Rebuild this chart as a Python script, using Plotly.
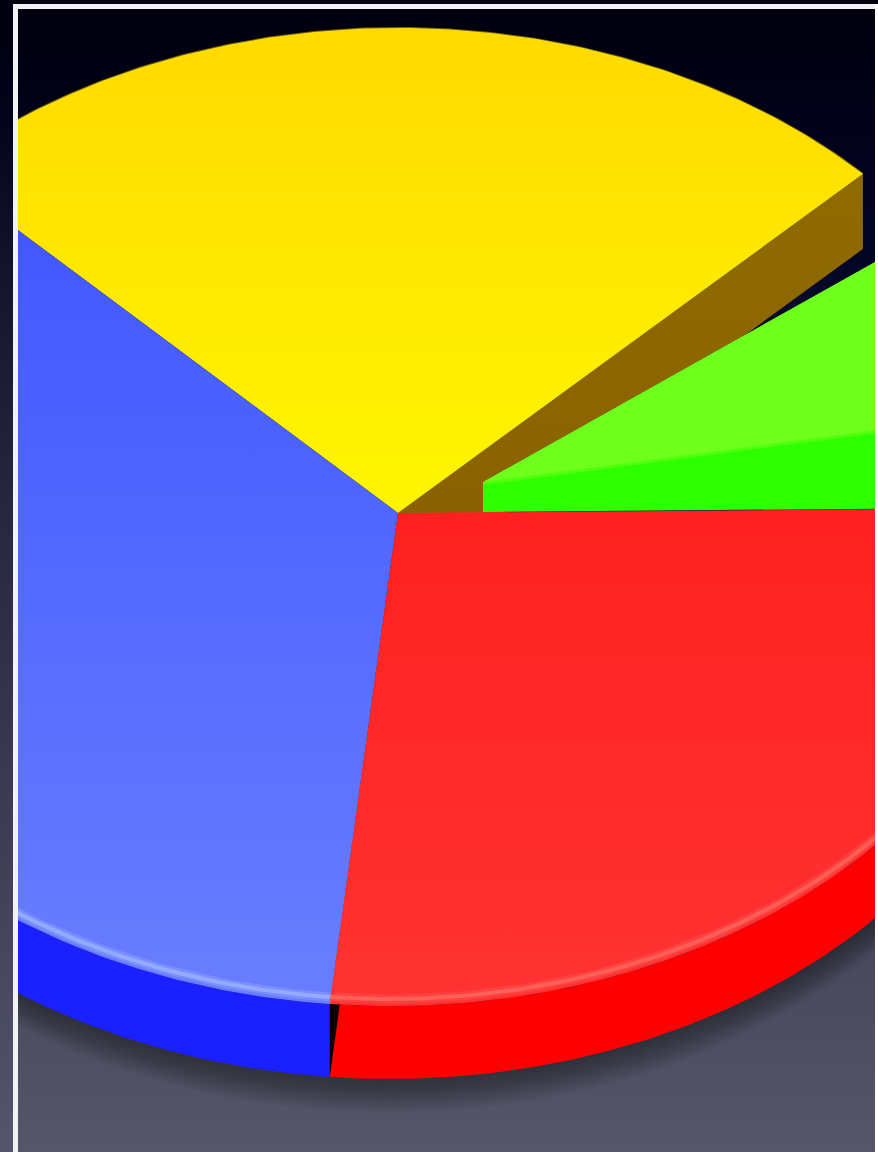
import numpy as np
import plotly.graph_objects as go

# ---- data: slice shares (percent of the full turn)
slice_names = ["Red", "Green", "Yellow", "Blue"]
red_share = 26.6
green_share = 10.1
green_gap_share = 2.05
yellow_share = 25.2
blue_share = 36.05

# ---- styles
top_scales = {
    "Yellow": [[0, "#ffda00"], [1, "#fff400"]],
    "Blue": [[0, "#4258ff"], [1, "#677cff"]],
    "Red": [[0, "#ff2020"], [1, "#ff3232"]],
}
W, H = 878, 1152
CX, CY = 398, 513
UP = (398, 650, 485)    # upper half of the projected disc
LOW = (389, 658, 493)   # lower half of the projected disc
DEPTH = 73
START_DEG = 0.6


def arc(a0, a1, n=160, dy=0.0):
    th = np.radians(np.linspace(a0, a1, n))
    s = np.sin(th)
    x0 = np.where(s >= 0, UP[0], LOW[0])
    a = np.where(s >= 0, UP[1], LOW[1])
    b = np.where(s >= 0, UP[2], LOW[2])
    return x0 + a * np.cos(th), CY - b * s + dy


def deg(p):
    return p * 3.6


green_a0 = START_DEG
green_a1 = green_a0 + deg(green_share)
yellow_a0 = green_a1 + deg(green_gap_share)
yellow_a1 = yellow_a0 + deg(yellow_share)
blue_a0 = yellow_a1
blue_a1 = blue_a0 + deg(blue_share)
red_a0 = blue_a1
red_a1 = red_a0 + deg(red_share)

fig = go.Figure()


def poly(x, y, color=None, gradient=None, start=None, stop=None):
    kw = dict(x=list(x), y=list(y), mode="lines", line=dict(width=0), fill="toself",
              hoverinfo="skip", showlegend=False)
    if gradient is not None:
        kw["fillgradient"] = dict(type="vertical", colorscale=gradient, start=start, stop=stop)
    else:
        kw["fillcolor"] = color
    fig.add_trace(go.Scatter(**kw))


def line(x, y, color, width):
    fig.add_trace(go.Scatter(x=list(x), y=list(y), mode="lines", hoverinfo="skip", showlegend=False,
                             line=dict(color=color, width=width, shape="linear")))


# background inside the frame
inner_bg = [[0, "#00000e"], [0.22, "#040426"], [0.8, "#45465a"], [1, "#555669"]]
outer_bg = [[0, "#00000f"], [0.1, "#03031a"], [0.22, "#12122a"], [0.44, "#26263c"], [0.75, "#413f55"], [1, "#555669"]]
poly([0, W, W, 0], [0, 0, H, H], gradient=inner_bg, start=0, stop=H)

# soft shadow under the pie
ax, ay = arc(180, 360)
for k in range(11, 0, -1):
    off = DEPTH + k * 3
    poly(np.r_[ax, ax[::-1]], np.r_[ay + off, ay[::-1]], color="rgba(15,15,12,0.05)")

# wall of the yellow slice along its right edge
yx, yy = arc(yellow_a0, yellow_a0, 2)
poly([CX, yx[0], yx[0], CX], [CY, yy[0], yy[0] + DEPTH + 2, CY + DEPTH + 2],
     gradient=[[0, "#8f6b00"], [1, "#8a5f00"]], start=170, stop=590)

# yellow top
x, y = arc(yellow_a0, yellow_a1)
poly(np.r_[CX, x], np.r_[CY, y], gradient=top_scales["Yellow"], start=30, stop=470)
line(x, y, "rgba(255,225,0,0.45)", 2)

# green slice, pulled out of the pie, its tip hidden by the wall
GX, GY, CUT = 430, 512, 483
x, y = arc(green_a0, green_a1, 40)
gx = GX + (x - UP[0])
gy = GY + (y - CY)
cut_y = GY - (CUT - GX) * (GY - gy[-1]) / (gx[-1] - GX)
poly(np.r_[CUT, gx, CUT], np.r_[GY, gy, cut_y], color="#2dff00")
# gloss on the green slice
gloss_x = [483, 647, 760, 900]
gloss_y = [482, 460, 445, 427]
top_x = gx[-1]
top_y = gy[-1]
for d, col in ((3, "#4fff0e"), (0, "#6eff1c")):
    poly(gloss_x + [top_x, CUT], [v + d for v in gloss_y] + [top_y, cut_y], color=col)

# walls
bx, by = arc(180, blue_a1)
poly(np.r_[bx, bx[::-1]], np.r_[by, by[::-1] + DEPTH], color="#1a20ff")
rx, ry = arc(red_a0, 360)
poly(np.r_[rx, rx[::-1]], np.r_[ry, ry[::-1] + DEPTH], color="#ff0000")
# dark notch between the walls
poly([bx[-1], bx[-1] + 10, bx[-1]], [by[-1], by[-1], by[-1] + DEPTH], color="#0a0000")

# blue and red tops
x, y = arc(blue_a0, blue_a1, 240)
poly(np.r_[CX, x], np.r_[CY, y], gradient=top_scales["Blue"], start=230, stop=960)
x, y = arc(red_a0, red_a1, 200)
poly(np.r_[CX, x], np.r_[CY, y], gradient=top_scales["Red"], start=510, stop=980)

# rim highlights
x, y = arc(180, blue_a1)
line(x, y - 7, "rgba(165,185,255,0.3)", 9)
line(x, y - 7, "rgba(165,190,255,0.6)", 4)
x, y = arc(red_a0, 360)
line(x, y - 7, "rgba(255,130,120,0.2)", 9)
line(x, y - 7, "rgba(255,125,110,0.5)", 4)

# strips and frame on top, outside the picture area
poly([0, 13, 13, 0], [0, 0, H, H], gradient=outer_bg, start=0, stop=H)
poly([0, W, W, 0], [0, 0, 4, 4], color="#01010f")
poly([13, 18, 18, 13], [4, 4, H, H], color="#f2f2f6")
poly([13, W, W, 13], [4, 4, 9, 9], color="#f2f2f6")
poly([875, W, W, 875], [4, 4, H, H], color="#ffffff")

fig.update_layout(
    width=W, height=H, margin=dict(l=0, r=0, t=0, b=0),
    paper_bgcolor="#000010", plot_bgcolor="#000010", showlegend=False,
    xaxis=dict(range=[0, W], visible=False, fixedrange=True),
    yaxis=dict(range=[H, 0], visible=False, fixedrange=True),
)
fig.write_html("out.html", config={"displayModeBar": False},
               post_script="document.body.style.margin='0';document.body.style.overflow='hidden';")
